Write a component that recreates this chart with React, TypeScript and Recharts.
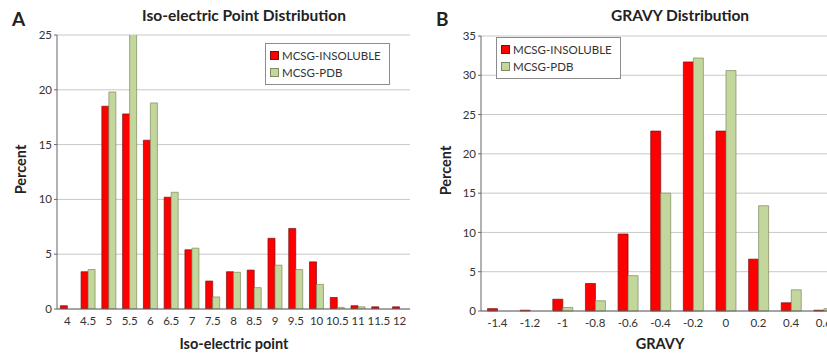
import { Bar, BarChart, CartesianGrid, Legend, XAxis, YAxis } from 'recharts';

// Panel A: iso-electric point
const piBins = ['4', '4.5', '5', '5.5', '6', '6.5', '7', '7.5', '8', '8.5', '9', '9.5', '10', '10.5', '11', '11.5', '12'];
const piInsoluble = [0.3, 3.4, 18.5, 17.8, 15.4, 10.2, 5.4, 2.55, 3.4, 3.55, 6.45, 7.35, 4.3, 1.05, 0.3, 0.2, 0.2];
const piPdb = [0, 3.6, 19.8, 26, 18.8, 10.65, 5.55, 1.1, 3.35, 1.95, 4.0, 3.6, 2.25, 0.15, 0.2, 0, 0];
const piTicks = [0, 5, 10, 15, 20, 25];

// Panel B: GRAVY
const gravyBins = ['-1.4', '-1.2', '-1', '-0.8', '-0.6', '-0.4', '-0.2', '0', '0.2', '0.4', '0.6'];
const gravyInsoluble = [0.3, 0.1, 1.5, 3.5, 9.8, 22.9, 31.7, 22.9, 6.6, 1.05, 0.1];
const gravyPdb = [0, 0, 0.45, 1.3, 4.5, 15.0, 32.2, 30.6, 13.4, 2.7, 0.3];
const gravyTicks = [0, 5, 10, 15, 20, 25, 30, 35];

const RED = '#ff0000';
const RED_EDGE = '#7a1010';
const GREEN = '#c3d69b';
const GREEN_EDGE = '#7d8a62';
const FONT = 'Lato, "Open Sans", sans-serif';
const TEXT = '#333';

const piData = piBins.map((bin, i) => ({ bin, insoluble: piInsoluble[i], pdb: piPdb[i] }));
const gravyData = gravyBins.map((bin, i) => ({ bin, insoluble: gravyInsoluble[i], pdb: gravyPdb[i] }));

function BoxLegend({ payload }: any) {
  return (
    <div
      style={{
        border: '1px solid #8c8c8c',
        background: '#fff',
        padding: '3px 8px 3px 4px',
        fontFamily: FONT,
        fontSize: 11.5,
        color: TEXT,
        whiteSpace: 'nowrap',
      }}
    >
      {(payload || []).map((p: any) => (
        <div key={p.value} style={{ display: 'flex', alignItems: 'center', height: 17 }}>
          <span
            style={{
              display: 'inline-block',
              width: 7,
              height: 7,
              background: p.color,
              border: `1px solid ${p.value === 'MCSG-PDB' ? GREEN_EDGE : RED_EDGE}`,
              marginRight: 3,
            }}
          />
          {p.value}
        </div>
      ))}
    </div>
  );
}

const abs = (x: number, y: number): React.CSSProperties => ({ position: 'absolute', left: x, top: y });

export default function App() {
  const tick = { fontSize: 11.5, fill: TEXT, fontFamily: FONT };
  const label: React.CSSProperties = { fontSize: 14.5, fontWeight: 700, textAlign: 'center' };
  return (
    <div
      style={{
        position: 'absolute',
        left: 0,
        top: 0,
        width: 827,
        height: 358,
        overflow: 'hidden',
        background: '#fff',
        fontFamily: FONT,
        color: '#222',
      }}
    >
      <div style={{ ...abs(12, 7), fontSize: 19, fontWeight: 700 }}>A</div>
      <div style={{ ...abs(436, 7), fontSize: 19, fontWeight: 700 }}>B</div>
      <div style={{ ...abs(84, 6), width: 320, ...label, fontSize: 15.5 }}>Iso-electric Point Distribution</div>
      <div style={{ ...abs(520, 6), width: 320, ...label, fontSize: 15.5 }}>GRAVY Distribution</div>
      <div style={{ ...abs(84, 335), width: 300, ...label }}>Iso-electric point</div>
      <div style={{ ...abs(510, 335), width: 300, ...label }}>GRAVY</div>
      <div style={{ ...abs(20 - 40, 171 - 10), width: 80, ...label, transform: 'rotate(-90deg)' }}>Percent</div>
      <div style={{ ...abs(445 - 40, 172 - 10), width: 80, ...label, transform: 'rotate(-90deg)' }}>Percent</div>

      <div style={abs(0, 0)}>
        <BarChart
          width={420}
          height={358}
          data={piData}
          margin={{ top: 35, right: 10, bottom: 19, left: 17 }}
          barCategoryGap="16%"
          barGap={0}
        >
          <CartesianGrid vertical={false} stroke="#c8c8c8" />
          <XAxis dataKey="bin" tick={tick} tickLine={false} axisLine={{ stroke: '#666' }} interval={0} />
          <YAxis
            width={40}
            domain={[0, 25]}
            ticks={piTicks}
            allowDataOverflow
            tick={tick}
            tickSize={3}
            tickLine={{ stroke: '#666' }}
            axisLine={{ stroke: '#666' }}
          />
          <Legend
            layout="horizontal"
            align="center"
            verticalAlign="middle"
            content={<BoxLegend />}
            wrapperStyle={{ left: 265, top: 43, width: 'auto' }}
          />
          <Bar dataKey="insoluble" name="MCSG-INSOLUBLE" fill={RED} stroke={RED_EDGE} strokeWidth={0.7} isAnimationActive={false} />
          <Bar dataKey="pdb" name="MCSG-PDB" fill={GREEN} stroke={GREEN_EDGE} strokeWidth={0.7} isAnimationActive={false} />
        </BarChart>
      </div>

      <div style={abs(410, 0)}>
        <BarChart
          width={440}
          height={358}
          data={gravyData}
          margin={{ top: 36, right: 10, bottom: 17, left: 31 }}
          barCategoryGap="20%"
          barGap={0}
        >
          <CartesianGrid vertical={false} stroke="#c8c8c8" />
          <XAxis dataKey="bin" tick={tick} tickLine={false} axisLine={{ stroke: '#666' }} interval={0} />
          <YAxis
            width={40}
            domain={[0, 35]}
            ticks={gravyTicks}
            tick={tick}
            tickSize={3}
            tickLine={{ stroke: '#666' }}
            axisLine={{ stroke: '#666' }}
          />
          <Legend
            layout="horizontal"
            align="center"
            verticalAlign="middle"
            content={<BoxLegend />}
            wrapperStyle={{ left: 86, top: 37, width: 'auto' }}
          />
          <Bar dataKey="insoluble" name="MCSG-INSOLUBLE" fill={RED} stroke={RED_EDGE} strokeWidth={0.7} isAnimationActive={false} />
          <Bar dataKey="pdb" name="MCSG-PDB" fill={GREEN} stroke={GREEN_EDGE} strokeWidth={0.7} isAnimationActive={false} />
        </BarChart>
      </div>
    </div>
  );
}
